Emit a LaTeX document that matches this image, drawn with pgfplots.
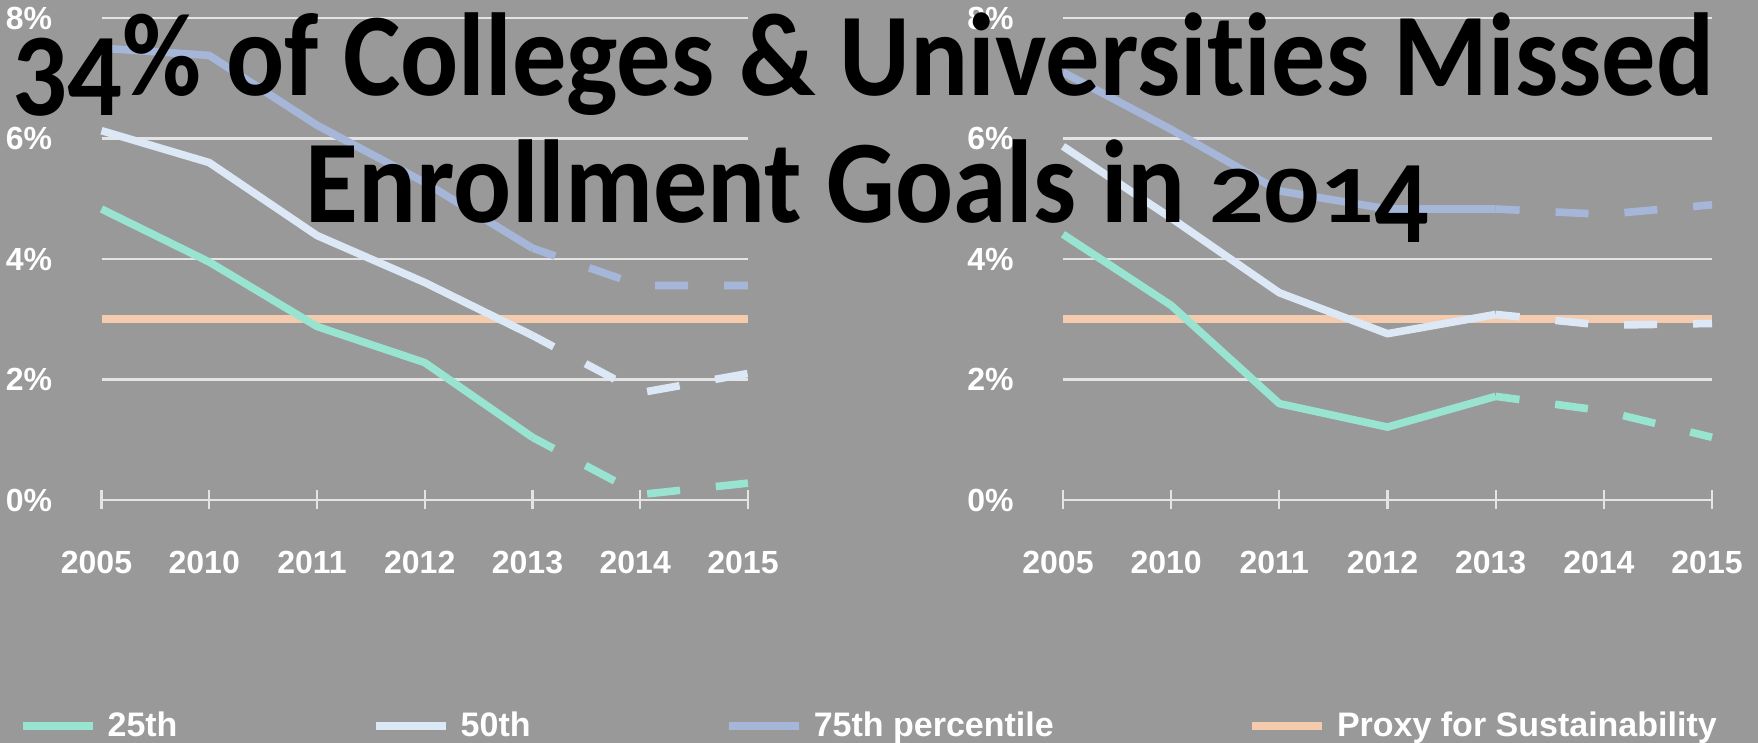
\documentclass[border=0pt]{standalone}
\usepackage{fontspec}
\setmainfont{Liberation Sans}
\newfontfamily\titlefont[Ligatures=NoCommon]{Carlito}
\usepackage{graphicx}
\usepackage{pgfplots}
\pgfplotsset{compat=1.18}

\definecolor{bg}{RGB}{153,153,153}
\definecolor{gridc}{RGB}{228,228,228}
\definecolor{c25}{RGB}{152,228,208}
\definecolor{c50}{RGB}{220,232,246}
\definecolor{c75}{RGB}{166,182,217}
\definecolor{cproxy}{RGB}{245,203,174}

% old-style figures, which Carlito lacks
\newcommand\lowfig[1]{\raisebox{-10pt}{#1}}
\newcommand\smallfig[1]{\scalebox{1}[0.69]{#1}}

\pgfplotsset{
  panel/.style={
    scale only axis, height=241pt,
    xmin=0, xmax=6, ymin=0, ymax=8,
    clip=false,
    axis line style={draw=none},
    xtick={0,...,6},
    xticklabels={2005,2010,2011,2012,2013,2014,2015},
    ytick={0,2,4,6,8},
    yticklabels={0\%,2\%,4\%,6\%,8\%},
    ymajorgrids=true, xmajorgrids=false,
    major grid style={draw=gridc, line width=1.1pt},
    xtick pos=left,
    tick align=center,
    major tick length=9.5pt,
    xtick style={draw=gridc, line width=1.1pt},
    ytick style={draw=none},
    tick label style={font=\bfseries\fontsize{16}{16}\selectfont, text=white},
    xticklabel style={anchor=base, inner sep=0pt, yshift=-32pt, xshift=-2.5pt},
    yticklabel style={anchor=east, inner sep=0pt, xshift=-19.75pt},
    /pgf/number format/assume math mode=true,
    every axis plot/.append style={line width=3.8pt, line join=round},
    dashpart/.style={dash pattern=on 16.5pt off 18pt, dash phase=4.5pt},
  },
}

\begin{document}
\begin{tikzpicture}
\fill[bg] (0,0) rectangle (879pt,371.5pt);

% left panel
\begin{axis}[panel, width=323.25pt, at={(50.75pt,121.5pt)}, anchor=south west,
  legend columns=4,
  legend style={at={(-0.1276,-0.469)}, anchor=west, draw=none, fill=none,
    inner sep=0pt, font=\bfseries\fontsize{17}{17}\selectfont, text=white,
    /tikz/every even column/.append style={column sep=95.5pt},
    /tikz/every odd column/.append style={column sep=0pt}},
  legend image code/.code={\draw[#1, line width=3.6pt, solid] (0pt,0pt) -- (35pt,0pt);},
  legend cell align=left,
]
\addplot[cproxy, forget plot] coordinates {(0,3) (6,3)};
\addplot[c25] coordinates {(0,4.83) (1,3.95) (2,2.88) (3,2.28) (4,1.04)};
\addlegendentry{\hspace{3.5pt}25th}
\addplot[c25, dashpart, forget plot] coordinates {(4,1.04) (5,0.09) (6,0.28)};
\addplot[c50] coordinates {(0,6.13) (1,5.6) (2,4.39) (3,3.61) (4,2.73)};
\addlegendentry{\hspace{3.5pt}50th}
\addplot[c50, dashpart, forget plot] coordinates {(4,2.73) (5,1.78) (6,2.1)};
\addplot[c75] coordinates {(0,7.5) (1,7.38) (2,6.22) (3,5.27) (4,4.18)};
\addlegendentry{\hspace{3.5pt}75th percentile}
\addplot[c75, dashpart, forget plot] coordinates {(4,4.18) (5,3.56) (6,3.56)};
\addlegendimage{cproxy}
\addlegendentry{\hspace{3.5pt}Proxy for Sustainability}
\end{axis}

% right panel
\begin{axis}[panel, width=324.5pt, at={(531.5pt,121.5pt)}, anchor=south west]
\addplot[cproxy] coordinates {(0,3) (6,3)};
\addplot[c25] coordinates {(0,4.41) (1,3.23) (2,1.6) (3,1.21) (4,1.72)};
\addplot[c25, dashpart] coordinates {(4,1.72) (5,1.48) (6,1.04)};
\addplot[c50] coordinates {(0,5.87) (1,4.68) (2,3.44) (3,2.76) (4,3.08)};
\addplot[c50, dashpart] coordinates {(4,3.08) (5,2.9) (6,2.93)};
\addplot[c75] coordinates {(0,7.1) (1,6.15) (2,5.13) (3,4.83) (4,4.83)};
\addplot[c75, dashpart] coordinates {(4,4.83) (5,4.74) (6,4.9)};
\end{axis}

\node[anchor=base, inner sep=0pt, font=\titlefont\bfseries\fontsize{59}{59}\selectfont]
  at (431.75pt,323.5pt) {\resizebox{850.5pt}{\height}{\lowfig{34}\% of Colleges \& Universities Missed}};
\node[anchor=base, inner sep=0pt, font=\titlefont\bfseries\fontsize{59}{59}\selectfont]
  at (433.75pt,260pt) {\resizebox{561.5pt}{\height}{Enrollment Goals in \smallfig{201}\lowfig{4}}};

\pgfresetboundingbox
\useasboundingbox (0,0) rectangle (879pt,371.5pt);
\end{tikzpicture}
\end{document}
